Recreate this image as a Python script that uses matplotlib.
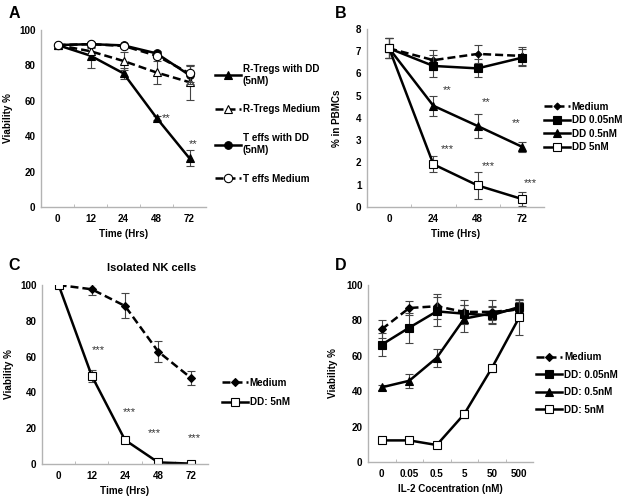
import matplotlib
matplotlib.use("Agg")
import matplotlib.pyplot as plt

plt.rcParams["font.family"] = ["Liberation Sans", "DejaVu Sans"]
plt.rcParams["font.weight"] = "bold"

# panel A - regulatory vs effector T cells
time_a = ["0", "12", "24", "48", "72"]
rtregs_dd = [91.5, 85.5, 75.5, 50.4, 27.5]
rtregs_dd_err = [0, 7, 3, 1, 4.5]
rtregs_med = [91.5, 88, 82.5, 76, 70.5]
rtregs_med_err = [0, 2, 5, 6.5, 10]
teff_dd = [91.5, 92, 91.3, 86.8, 74.5]
teff_dd_err = [0, 1.5, 1, 1.5, 5]
teff_med = [91.5, 92, 91, 85.5, 75.5]
teff_med_err = [0, 1.5, 1, 1.5, 5]

# panel B - % in PBMCs
time_b = ["0", "24", "48", "72"]
pbmc_med = [7.13, 6.6, 6.88, 6.79]
pbmc_med_err = [0.45, 0.45, 0.4, 0.4]
pbmc_dd005 = [7.13, 6.34, 6.23, 6.71]
pbmc_dd005_err = [0.45, 0.5, 0.4, 0.38]
pbmc_dd05 = [7.13, 4.55, 3.64, 2.71]
pbmc_dd05_err = [0.45, 0.45, 0.55, 0.22]
pbmc_dd5 = [7.13, 1.92, 0.97, 0.36]
pbmc_dd5_err = [0.45, 0.35, 0.6, 0.3]

# panel C - isolated NK cells
time_c = ["0", "12", "24", "48", "72"]
nk_med = [100, 97.6, 88.3, 62.8, 47.9]
nk_med_err = [0, 3, 7, 6, 4]
nk_dd5 = [100, 49.2, 13.4, 0.9, 0.2]
nk_dd5_err = [0, 3.5, 0.5, 0.3, 0.2]

# panel D - IL-2 rescue
il2 = ["0", "0.05", "0.5", "5", "50", "500"]
il2_med = [75, 87, 88, 84.8, 84.8, 86.2]
il2_med_err = [5, 4, 7, 7, 7, 6]
il2_dd005 = [66.3, 75.9, 85.1, 83.8, 82.9, 87.6]
il2_dd005_err = [6.5, 8.5, 8, 5, 4.5, 4]
il2_dd05 = [42.2, 45.9, 58.9, 81, 84, 86.6]
il2_dd05_err = [1.5, 4, 5, 7.5, 4, 4]
il2_dd5 = [12.2, 12.2, 9.6, 27.1, 53, 81.7]
il2_dd5_err = [0, 0, 0, 2, 2, 10]

# significance marks (category index, y, text)
stars_a = [(3.3, 50.3, "**"), (4.1, 35.6, "**")]
stars_b = [(1.31, 5.26, "**"), (2.2, 4.72, "**"), (2.87, 3.77, "**"),
           (1.31, 2.6, "***"), (2.24, 1.84, "***"), (3.2, 1.08, "***")]
stars_c = [(1.2, 63.7, "***"), (2.13, 29, "***"), (2.88, 17.3, "***"), (4.1, 14.5, "***")]

FS = 7.1
SOLID = "-"
DASH = (0, (3.2, 1.6))
AXIS_GRAY = "#b3b3b3"


def _series(ax, y, err, label, marker, filled, ls, ms=5.5):
    x = list(range(len(y)))
    ax.errorbar(x, y, yerr=err, fmt="none", ecolor="#444444", elinewidth=0.8,
                capsize=2.6, capthick=0.8)
    ax.plot(
        x, y, color="black", linestyle=ls, linewidth=1.8,
        marker=marker, markersize=ms, markeredgewidth=0.8,
        markerfacecolor="black" if filled else "white", markeredgecolor="black",
        label=label,
    )


def _style(ax, cats, ymax, ystep, ylabel, xlabel, ylab_x):
    n = len(cats)
    ax.set_xlim(-0.5, n - 0.5)
    ax.set_ylim(0, ymax)
    ax.set_xticks(range(n))
    ax.set_xticklabels(cats)
    ax.set_xticks([i + 0.5 for i in range(n - 1)], minor=True)
    ticks = []
    v = 0
    while v <= ymax + 1e-9:
        ticks.append(v)
        v += ystep
    ax.set_yticks(ticks)
    ax.set_yticklabels([f"{t:g}" for t in ticks])
    for side in ("top", "right"):
        ax.spines[side].set_visible(False)
    for side in ("left", "bottom"):
        ax.spines[side].set_color(AXIS_GRAY)
        ax.spines[side].set_linewidth(1.0)
    ax.tick_params(axis="x", which="major", length=0, pad=5, labelsize=FS)
    ax.tick_params(axis="x", which="minor", length=2.5, direction="in", color=AXIS_GRAY)
    ax.tick_params(axis="y", length=0, pad=4, labelsize=FS)
    for lab in ax.get_xticklabels() + ax.get_yticklabels():
        lab.set_fontweight("bold")
    ax.set_ylabel(ylabel, fontsize=FS, fontweight="bold")
    ax.set_xlabel(xlabel, fontsize=FS, fontweight="bold")
    ax.yaxis.set_label_coords(ylab_x, 0.5)
    ax.xaxis.set_label_coords(0.5, -0.125)


def _stars(ax, marks):
    for x, y, s in marks:
        ax.text(x, y, s, fontsize=8, color="#333333", ha="center", va="center",
                fontweight="normal")


def _legend(ax, x, y, spacing):
    leg = ax.legend(
        loc="center left", bbox_to_anchor=(x, y), frameon=False, fontsize=FS,
        handlelength=2.6, handletextpad=0.2, labelspacing=spacing,
        borderpad=0, borderaxespad=0, numpoints=1,
    )
    for t in leg.get_texts():
        t.set_fontweight("bold")
    return leg


W, H = 627, 500
fig = plt.figure(figsize=(W / 100, H / 100), dpi=100)


def _axes(left, top, right, bottom):
    return fig.add_axes([left / W, 1 - bottom / H, (right - left) / W, (bottom - top) / H])


# A
ax = _axes(41, 30, 206, 207)
_series(ax, rtregs_dd, rtregs_dd_err, "R-Tregs with DD\n(5nM)", "^", True, SOLID)
_series(ax, rtregs_med, rtregs_med_err, "R-Tregs Medium", "^", False, DASH)
_series(ax, teff_dd, teff_dd_err, "T effs with DD\n(5nM)", "o", True, SOLID)
_series(ax, teff_med, teff_med_err, "T effs Medium", "o", False, DASH, ms=6)
_style(ax, time_a, 100, 20, "Viability %", "Time (Hrs)", -0.17)
_stars(ax, stars_a)
_legend(ax, 1.055, 0.47, 1.9)

# B
ax = _axes(367, 29, 544, 207)
_series(ax, pbmc_med, pbmc_med_err, "Medium", "D", True, DASH, ms=3.5)
_series(ax, pbmc_dd005, pbmc_dd005_err, "DD 0.05nM", "s", True, SOLID)
_series(ax, pbmc_dd05, pbmc_dd05_err, "DD 0.5nM", "^", True, SOLID)
_series(ax, pbmc_dd5, pbmc_dd5_err, "DD 5nM", "s", False, SOLID, ms=6)
_style(ax, time_b, 8, 1, "% in PBMCs", "Time (Hrs)", -0.14)
_stars(ax, stars_b)
_legend(ax, 1.0, 0.45, 0.35)

# C
ax = _axes(42, 285, 208, 464)
_series(ax, nk_med, nk_med_err, "Medium", "D", True, DASH, ms=4.2)
_series(ax, nk_dd5, nk_dd5_err, "DD: 5nM", "s", False, SOLID, ms=6)
_style(ax, time_c, 100, 20, "Viability %", "Time (Hrs)", -0.17)
_stars(ax, stars_c)
_legend(ax, 1.084, 0.40, 0.95)

# D
ax = _axes(368, 285, 533, 462)
_series(ax, il2_med, il2_med_err, "Medium", "D", True, DASH, ms=4.2)
_series(ax, il2_dd005, il2_dd005_err, "DD: 0.05nM", "s", True, SOLID)
_series(ax, il2_dd05, il2_dd05_err, "DD: 0.5nM", "^", True, SOLID)
_series(ax, il2_dd5, il2_dd5_err, "DD: 5nM", "s", False, SOLID, ms=6)
_style(ax, il2, 100, 20, "Viability %", "IL-2 Cocentration (nM)", -0.18)
_legend(ax, 1.02, 0.443, 0.75)

for letter, x, y in [("A", 14, 14), ("B", 341, 14), ("C", 14, 265), ("D", 341, 265)]:
    fig.text(x / W, 1 - y / H, letter, fontsize=11.5, fontweight="bold", ha="center", va="center")
fig.text(152 / W, 1 - 268 / H, "Isolated NK cells", fontsize=8, fontweight="bold",
         ha="center", va="center")

fig.savefig("out.png", dpi=100)
